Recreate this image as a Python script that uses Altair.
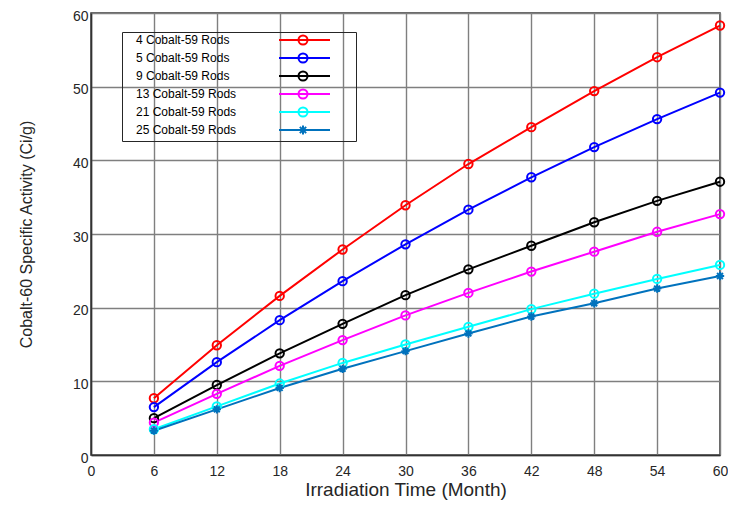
import altair as alt
import pandas as pd

months = [6, 12, 18, 24, 30, 36, 42, 48, 54, 60]
series_names = [
    "4 Cobalt-59 Rods",
    "5 Cobalt-59 Rods",
    "9 Cobalt-59 Rods",
    "13 Cobalt-59 Rods",
    "21 Cobalt-59 Rods",
    "25 Cobalt-59 Rods",
]
rods4 = [7.7, 14.9, 21.6, 27.9, 33.9, 39.5, 44.5, 49.4, 54.0, 58.3]
rods5 = [6.5, 12.6, 18.3, 23.6, 28.6, 33.3, 37.7, 41.8, 45.6, 49.2]
rods9 = [5.0, 9.5, 13.8, 17.8, 21.7, 25.2, 28.4, 31.6, 34.5, 37.1]
rods13 = [4.4, 8.3, 12.1, 15.6, 18.95, 22.0, 24.9, 27.6, 30.3, 32.7]
rods21 = [3.5, 6.6, 9.7, 12.5, 15.0, 17.4, 19.8, 21.9, 23.9, 25.8]
rods25 = [3.3, 6.2, 9.1, 11.7, 14.1, 16.5, 18.8, 20.6, 22.6, 24.3]
colors = ["#FF0000", "#0000FF", "#000000", "#FF00FF", "#00FFFF", "#0072BD"]

all_values = [rods4, rods5, rods9, rods13, rods21, rods25]
rows = []
for name, vals in zip(series_names, all_values):
    for m, v in zip(months, vals):
        rows.append({"month": m, "activity": v, "series": name})
df = pd.DataFrame(rows)

FONT = "Liberation Sans"
TXT = "#262626"

star_path = "M0,-1L0,1M-1,0L1,0M-0.7,-0.7L0.7,0.7M-0.7,0.7L0.7,-0.7"
# legend symbols: line segment with marker, drawn to the right of the labels
leg_circle = ("M37.25,0L50,0M42.125,0A1.125,1.125,0,1,1,44.375,0"
              "A1.125,1.125,0,1,1,42.125,0M55,0")
leg_star = ("M37.25,0L50,0M43.25,-1.125L43.25,1.125M42.125,0L44.375,0"
            "M42.46,-0.79L44.04,0.79M42.46,0.79L44.04,-0.79M55,0")

x_enc = alt.X(
    "month:Q",
    scale=alt.Scale(domain=[0, 60], nice=False, zero=False),
    axis=alt.Axis(
        values=[0, 6, 12, 18, 24, 30, 36, 42, 48, 54, 60],
        title="Irradiation Time (Month)",
        titleFontSize=19,
        titlePadding=2,
        labelPadding=9,
        labelFlush=False,
    ),
)
y_enc = alt.Y(
    "activity:Q",
    scale=alt.Scale(domain=[0, 60], nice=False),
    axis=alt.Axis(
        values=[0, 10, 20, 30, 40, 50, 60],
        title="Cobalt-60 Specific Activity (Ci/g)",
        titleFontSize=16,
        titlePadding=38,
        labelPadding=3,
        labelOffset=3,
        labelFlush=False,
    ),
)
color_scale = alt.Scale(domain=series_names, range=colors)

legend_def = alt.Legend(
    orient="none",
    legendX=31,
    legendY=19,
    title=None,
    strokeColor=TXT,
    padding=2,
    rowPadding=0,
    labelFont=FONT,
    labelFontSize=12,
    labelColor="#000000",
    symbolSize=64,
    symbolStrokeWidth=2,
    labelOffset=0,
    symbolOpacity=1,
)
color_enc = alt.Color("series:N", scale=color_scale, legend=legend_def)

base = alt.Chart(df)

lines = base.mark_line(strokeWidth=2).encode(
    x=x_enc, y=y_enc, color=color_enc, detail="series:N",
)

circles = base.transform_filter(
    alt.datum.series != series_names[-1]
).mark_point(shape="circle", filled=False, size=70, strokeWidth=2, opacity=1).encode(
    x=x_enc, y=y_enc, color=color_enc,
)

stars = base.transform_filter(
    alt.datum.series == series_names[-1]
).mark_point(shape=star_path, filled=False, size=70, strokeWidth=2, opacity=1).encode(
    x=x_enc, y=y_enc, color=color_enc,
)

legend_layer = base.transform_filter("false").mark_point(
    filled=False, strokeWidth=2, opacity=1, size=64
).encode(
    x=x_enc, y=y_enc,
    color=color_enc,
    shape=alt.Shape(
        "series:N",
        scale=alt.Scale(domain=series_names, range=[leg_circle] * 5 + [leg_star]),
        legend=legend_def,
    ),
)

chart = alt.layer(lines, circles, stars, legend_layer).properties(
    width=629,
    height=442,
    background="white",
    autosize=alt.AutoSizeParams(type="none"),
    padding={"left": 83, "top": 5, "right": 8, "bottom": 46},
).configure_view(
    stroke="#333333", strokeWidth=1.5
).configure_axis(
    labelFont=FONT,
    titleFont=FONT,
    labelFontSize=14,
    labelColor=TXT,
    titleColor=TXT,
    titleFontWeight="normal",
    domainColor="#333333",
    domainWidth=1.5,
    ticks=False,
    gridColor="#7f7f7f",
    gridWidth=1.4,
    gridOpacity=1,
    grid=True,
)

chart.save("out.html", embed_options={"renderer": "svg", "actions": False})
